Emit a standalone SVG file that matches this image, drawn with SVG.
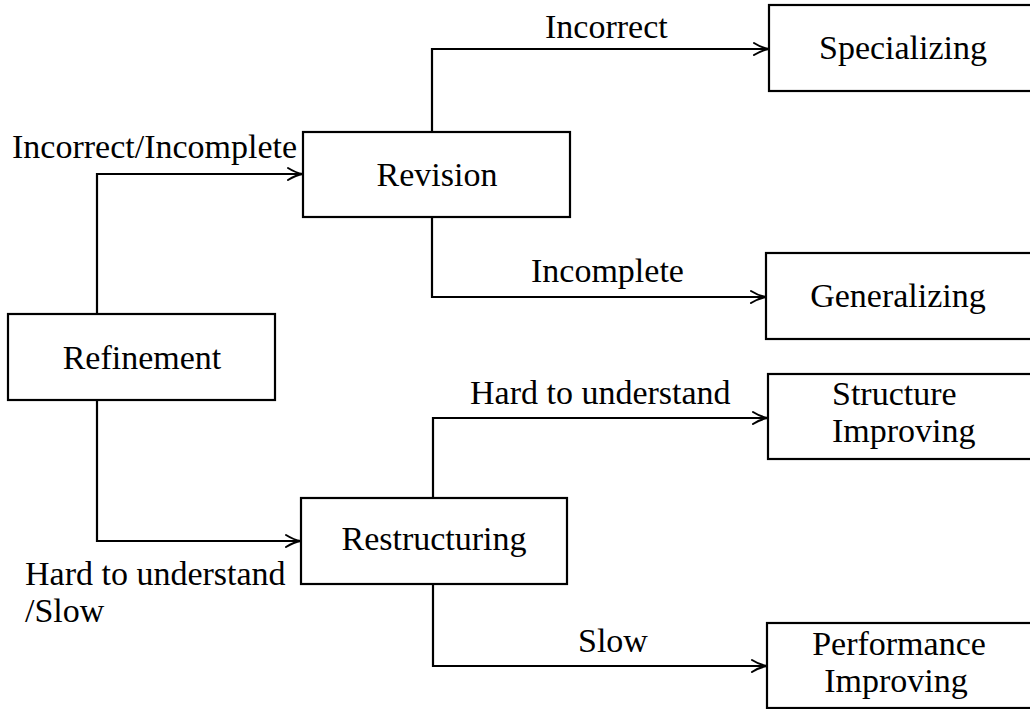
<svg xmlns="http://www.w3.org/2000/svg" width="1030" height="709" viewBox="0 0 1030 709">
  <style>
    .box { fill: #fff; stroke: #000; stroke-width: 2.2; }
    .wire { fill: none; stroke: #000; stroke-width: 2.2; }
    text { font-family: "Times New Roman", "Liberation Serif", Times, "DejaVu Serif", serif; font-size: 34px; fill: #000; }
    .mid { text-anchor: middle; }
  </style>
  <defs>
    <marker id="arrow" markerUnits="userSpaceOnUse" markerWidth="20" markerHeight="16" refX="17" refY="8" orient="auto">
      <path d="M2,2 Q10,7 17,8 Q10,9 2,14" fill="none" stroke="#000" stroke-width="2" stroke-linecap="round"/>
    </marker>
  </defs>

  <rect width="1030" height="709" fill="#fff"/>

  <g id="connectors">
    <path class="wire" d="M97,314 V174 H303" marker-end="url(#arrow)"/>
    <path class="wire" d="M97,400 V541 H301" marker-end="url(#arrow)"/>
    <path class="wire" d="M432,132 V49 H769" marker-end="url(#arrow)"/>
    <path class="wire" d="M432,217 V297 H766" marker-end="url(#arrow)"/>
    <path class="wire" d="M433,498 V418 H768" marker-end="url(#arrow)"/>
    <path class="wire" d="M433,584 V666 H767" marker-end="url(#arrow)"/>
    <text x="12" y="158">Incorrect/Incomplete</text>
    <text x="25" y="585">Hard to understand</text>
    <text x="25" y="622">/Slow</text>
    <text x="545" y="38">Incorrect</text>
    <text x="531" y="282">Incomplete</text>
    <text x="470" y="404">Hard to understand</text>
    <text x="578" y="652">Slow</text>
  </g>

  <g id="refinement">
    <rect class="box" x="8" y="314" width="267" height="86"/>
    <text class="mid" x="142" y="369">Refinement</text>
  </g>

  <g id="revision">
    <rect class="box" x="303" y="132" width="267" height="85"/>
    <text class="mid" x="437" y="186">Revision</text>
  </g>

  <g id="restructuring">
    <rect class="box" x="301" y="498" width="266" height="86"/>
    <text class="mid" x="434" y="550">Restructuring</text>
  </g>

  <g id="specializing">
    <rect class="box" x="769" y="5" width="280" height="86"/>
    <text class="mid" x="903" y="59">Specializing</text>
  </g>

  <g id="generalizing">
    <rect class="box" x="766" y="253" width="280" height="86"/>
    <text class="mid" x="898" y="307">Generalizing</text>
  </g>

  <g id="structure-improving">
    <rect class="box" x="768" y="374" width="280" height="85"/>
    <text x="832" y="405">Structure</text>
    <text x="832" y="442">Improving</text>
  </g>

  <g id="performance-improving">
    <rect class="box" x="767" y="623" width="280" height="85"/>
    <text class="mid" x="899" y="655">Performance</text>
    <text class="mid" x="896" y="692">Improving</text>
  </g>
</svg>
